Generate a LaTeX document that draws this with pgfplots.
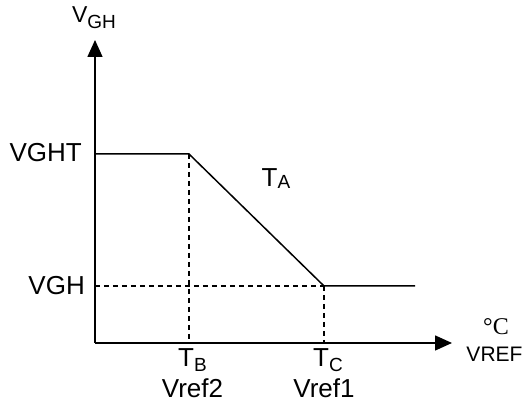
\documentclass[border=0pt]{standalone}
\usepackage{fontspec}
\setmainfont{Liberation Sans}
\newfontfamily\serifC{Liberation Serif}
\usepackage{pgfplots}
\pgfplotsset{compat=1.18}
\usetikzlibrary{arrows.meta}
\newcommand{\bigf}{\fontsize{26}{28}\selectfont}
\newcommand{\sub}[2][5pt]{\raisebox{-#1}{\fontsize{19}{20}\selectfont #2}}
\begin{document}
\begin{tikzpicture}
\useasboundingbox (-95pt,-60pt) rectangle (430pt,343pt);
\begin{axis}[
  at={(0pt,0pt)}, anchor=south west,
  scale only axis, width=357pt, height=303pt,
  xmin=0, xmax=357, ymin=0, ymax=303,
  axis lines*=left,
  axis line style={line width=1.5pt, -{Triangle[length=17pt,width=15pt]}},
  xtick=\empty, ytick=\empty,
  clip=false,
]
\addplot[black, line width=1.5pt] coordinates {(0,189) (94,189) (229,57) (320,57)};
\addplot[black, line width=1.3pt, dash pattern=on 5pt off 4pt] coordinates {(94,189) (94,0)};
\addplot[black, line width=1.3pt, dash pattern=on 5pt off 4pt] coordinates {(229,57) (229,0)};
\addplot[black, line width=1.3pt, dash pattern=on 5pt off 4pt] coordinates {(0,57) (229,57)};
\node[anchor=base east, inner sep=0] at (axis cs:-13,181) {\bigf VGHT};
\node[anchor=base east, inner sep=0] at (axis cs:-10,48) {\bigf VGH};
\node[anchor=base, inner sep=0] at (axis cs:-1,320) {\fontsize{23}{24}\selectfont V\sub[6pt]{GH}};
\node[anchor=base, inner sep=0] at (axis cs:181,156) {\bigf T\sub[2pt]{A}};
\node[anchor=base, inner sep=0] at (axis cs:97.5,-24) {\bigf T\sub{B}};
\node[anchor=base, inner sep=0] at (axis cs:97.5,-55) {\bigf Vref2};
\node[anchor=base, inner sep=0] at (axis cs:233,-24) {\bigf T\sub{C}};
\node[anchor=base, inner sep=0] at (axis cs:229,-55) {\bigf Vref1};
\node[anchor=base, inner sep=0] at (axis cs:401,8) {\serifC\fontsize{24}{26}\selectfont °C};
\node[anchor=base, inner sep=0] at (axis cs:399.5,-19) {\fontsize{21}{24}\selectfont VREF};
\end{axis}
\end{tikzpicture}
\end{document}
